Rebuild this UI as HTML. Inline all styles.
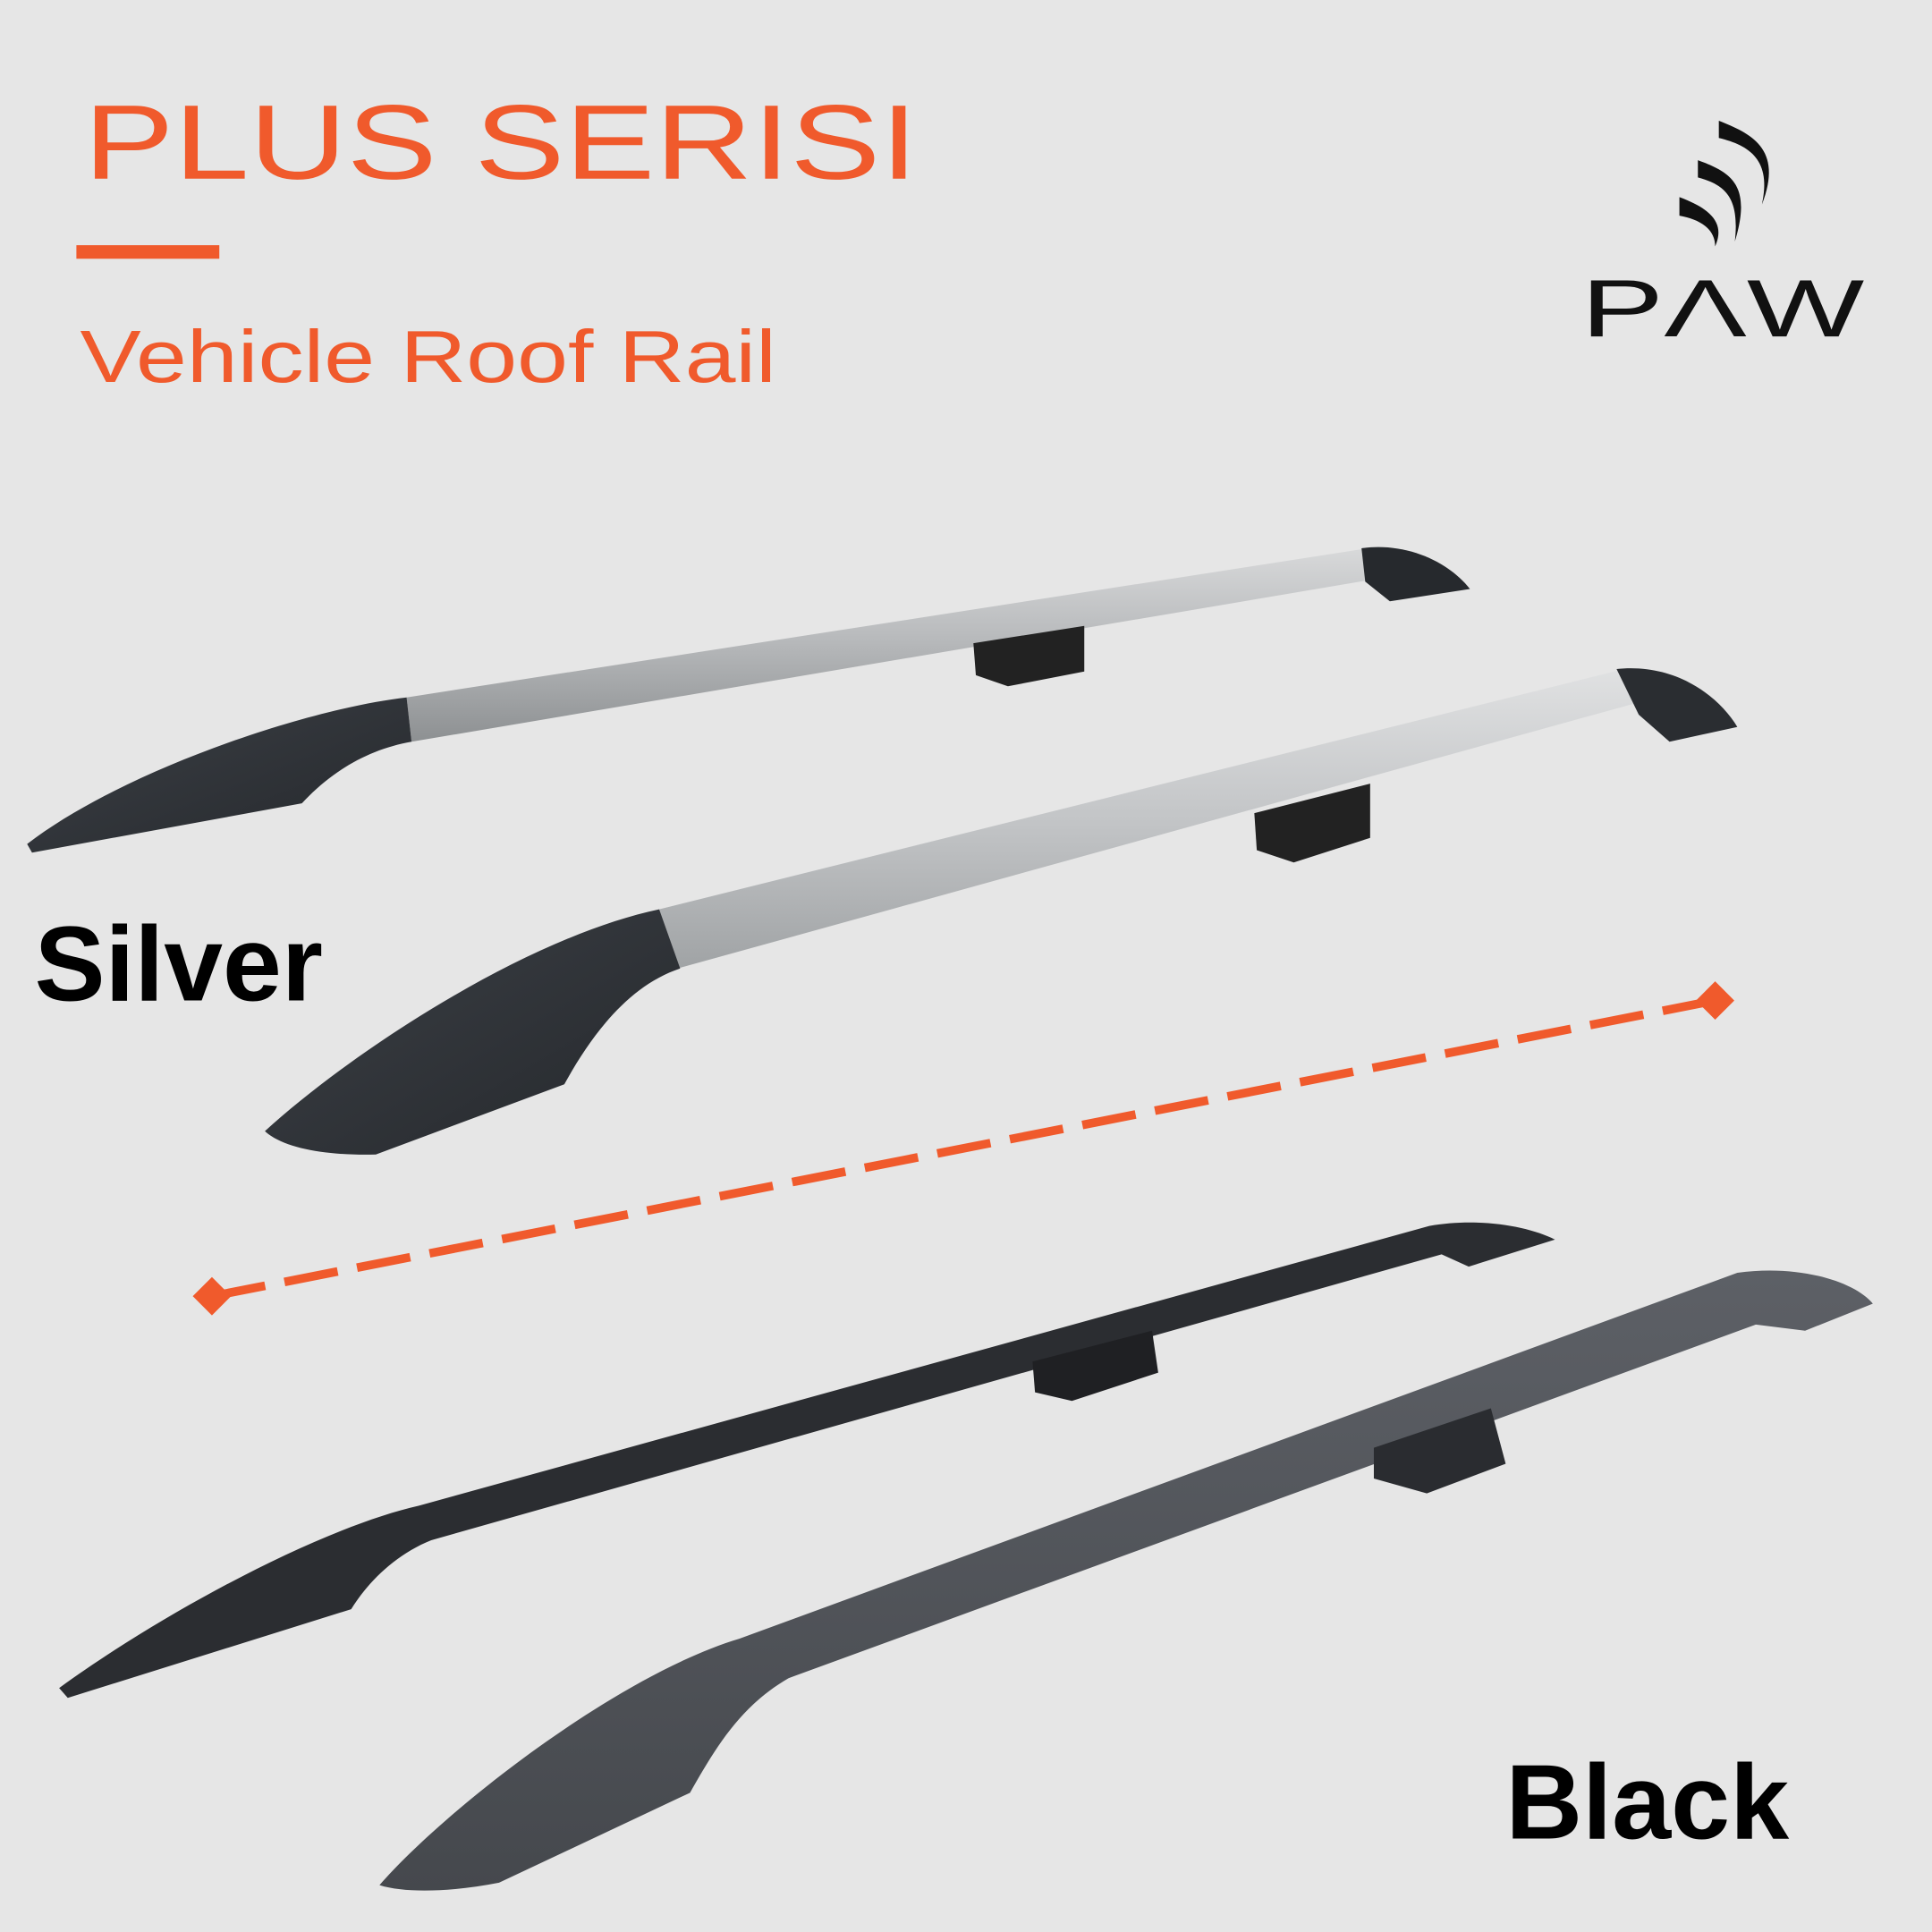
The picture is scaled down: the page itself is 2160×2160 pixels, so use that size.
<!DOCTYPE html>
<html><head><meta charset="utf-8"><style>
html,body{margin:0;padding:0;background:#e6e6e6;width:2160px;height:2160px;overflow:hidden}
svg{display:block}
</style></head><body>
<svg width="2160" height="2160" viewBox="0 0 1568 1568" xmlns="http://www.w3.org/2000/svg">
<defs>
<linearGradient id="sil" x1="0" y1="0" x2="0" y2="1">
<stop offset="0" stop-color="#d8d9da"/><stop offset="0.45" stop-color="#b9bbbd"/><stop offset="1" stop-color="#8d9092"/>
</linearGradient>
<linearGradient id="sil2" x1="0" y1="0" x2="0" y2="1">
<stop offset="0" stop-color="#e0e1e2"/><stop offset="0.5" stop-color="#c3c5c7"/><stop offset="1" stop-color="#a0a3a5"/>
</linearGradient>
<linearGradient id="cap" x1="0" y1="0" x2="1" y2="1">
<stop offset="0" stop-color="#3c4046"/><stop offset="1" stop-color="#25282c"/>
</linearGradient>
<linearGradient id="gry" x1="0" y1="0" x2="0" y2="1">
<stop offset="0" stop-color="#5d6066"/><stop offset="1" stop-color="#45484d"/>
</linearGradient>
</defs>
<rect width="1568" height="1568" fill="#e6e6e6"/>
<text x="68" y="145" font-family="Liberation Sans, sans-serif" font-size="86" fill="#f05a2c" textLength="677" lengthAdjust="spacingAndGlyphs" style="font-weight:300">PLUS SERISI</text>
<rect x="62" y="199" width="116" height="11" fill="#f05a2c"/>
<text x="65" y="310" font-family="Liberation Sans, sans-serif" font-size="60" fill="#f05a2c" textLength="565" lengthAdjust="spacingAndGlyphs">Vehicle Roof Rail</text>
<!-- logo -->
<g fill="#111">
<path d="M1395,98 C1420,108 1448,120 1430,166 C1438,130 1420,118 1395,112 Z"/>
<path d="M1378,130 C1405,140 1422,150 1408,196 C1412,160 1400,150 1378,144 Z"/>
<path d="M1363,160 C1390,170 1400,182 1392,200 C1392,186 1380,178 1363,175 Z"/>
</g>
<text x="1283" y="273" font-family="Liberation Sans, sans-serif" font-size="66" fill="#111" textLength="230" lengthAdjust="spacingAndGlyphs">PΛW</text>
<!-- rail 1 silver -->
<path d="M330,566 L1110,445 L1116,470 L334,602 Z" fill="url(#sil)"/>
<path d="M1105,445 C1140,440 1175,455 1193,478 L1128,488 L1108,472 Z" fill="#26292d"/>
<path d="M790,522 L880,508 L880,545 L818,557 L792,548 Z" fill="#222"/>
<path d="M330,566 C250,575 100,625 22,685 L26,692 L245,652 C270,625 300,608 334,602 Z" fill="url(#cap)"/>
<!-- rail 2 silver -->
<path d="M535,738 L1318,543 L1330,570 L550,786 Z" fill="url(#sil2)"/>
<path d="M1312,543 C1360,538 1395,565 1410,590 L1355,602 L1330,580 Z" fill="#2a2d31"/>
<path d="M1018,660 L1112,636 L1112,680 L1050,700 L1020,690 Z" fill="#222"/>
<path d="M535,738 C430,760 290,850 215,918 C230,932 265,938 305,937 L458,880 C480,840 510,800 552,786 Z" fill="url(#cap)"/>
<!-- dashed line -->
<line x1="172" y1="1052" x2="1392" y2="812" stroke="#f05a2c" stroke-width="7" stroke-dasharray="44,16"/>
<rect x="161" y="1041" width="22" height="22" fill="#f05a2c" transform="rotate(45 172 1052)"/>
<rect x="1381" y="801" width="22" height="22" fill="#f05a2c" transform="rotate(45 1392 812)"/>
<!-- rail 3 black -->
<path d="M1160,995 C1200,988 1240,995 1262,1006 L1192,1028 L1170,1018 L350,1250 C320,1262 298,1285 285,1306 L55,1378 L48,1370 C130,1310 260,1240 340,1222 Z" fill="#2b2d31"/>
<path d="M838,1105 L935,1080 L940,1114 L870,1137 L840,1130 Z" fill="#1f2023"/>
<!-- rail 4 grey -->
<path d="M1410,1033 C1460,1026 1505,1040 1520,1058 L1465,1080 L1425,1075 L640,1362 C600,1385 580,1420 560,1455 L405,1528 C370,1535 330,1537 308,1530 C360,1470 500,1360 600,1330 Z" fill="url(#gry)"/>
<path d="M1115,1175 L1210,1143 L1222,1188 L1158,1212 L1115,1200 Z" fill="#2a2c30"/>
<text x="28" y="812" font-family="Liberation Sans, sans-serif" font-weight="bold" font-size="86" fill="#000" textLength="234" lengthAdjust="spacingAndGlyphs">Silver</text>
<text x="1222" y="1492" font-family="Liberation Sans, sans-serif" font-weight="bold" font-size="86" fill="#000" textLength="230" lengthAdjust="spacingAndGlyphs">Black</text>
</svg>
</body></html>
